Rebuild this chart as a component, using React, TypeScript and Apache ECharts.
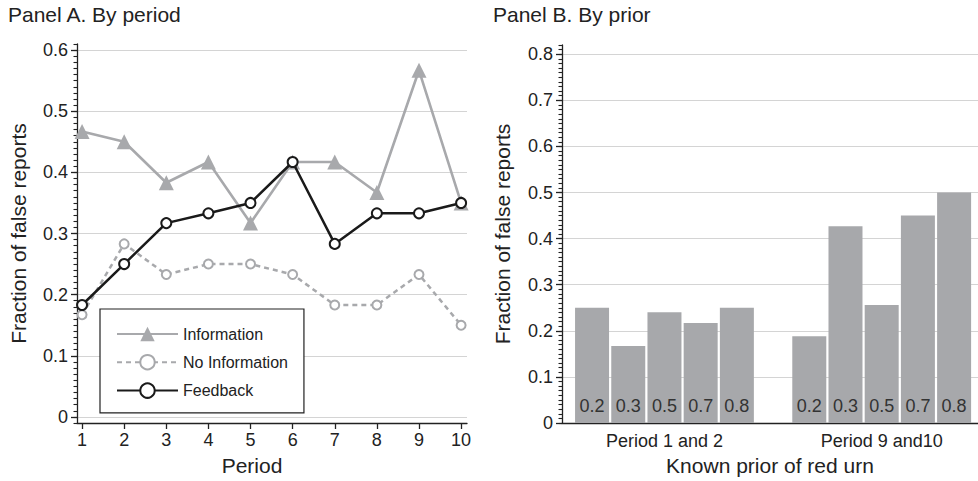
import React, { useEffect, useRef } from "react";
import * as echarts from "echarts";

// ---- Panel A data ----
const periods = [1, 2, 3, 4, 5, 6, 7, 8, 9, 10];
const information = [0.467, 0.45, 0.383, 0.417, 0.317, 0.417, 0.417, 0.367, 0.567, 0.35];
const noInformation = [0.167, 0.283, 0.233, 0.25, 0.25, 0.233, 0.183, 0.183, 0.233, 0.15];
const feedback = [0.183, 0.25, 0.317, 0.333, 0.35, 0.417, 0.283, 0.333, 0.333, 0.35];
const yTicksA = [0, 0.1, 0.2, 0.3, 0.4, 0.5, 0.6];

// ---- Panel B data ----
const periodGroups = ["Period 1 and 2", "Period 9 and10"];
const priors = ["0.2", "0.3", "0.5", "0.7", "0.8"];
const earlyPeriods = [0.25, 0.167, 0.24, 0.217, 0.25];
const latePeriods = [0.188, 0.427, 0.256, 0.45, 0.5];
const yTicksB = [0, 0.1, 0.2, 0.3, 0.4, 0.5, 0.6, 0.7, 0.8];

const FONT = "'Liberation Sans', Arial, Helvetica, sans-serif";
const TEXT = "#222";
const AXIS = "#222";
const GRID = "#d4d4d4";
const LIGHT = "#a8a9ac";
const DARK = "#1a1a1a";
const BAR = "#a7a8ab";

export default function App() {
  const ref = useRef<HTMLDivElement>(null);

  useEffect(() => {
    if (!ref.current) return;
    const chart = echarts.init(ref.current, undefined, { renderer: "svg" });

    const groupValues = [earlyPeriods, latePeriods];
    const barData: any[] = [];
    groupValues.forEach((vals, g) => {
      vals.forEach((v, i) => {
        barData.push({ value: [g * (priors.length + 1) + i, v], name: priors[i] });
      });
    });
    const groupCenters = periodGroups.map((_, g) => g * (priors.length + 1) + (priors.length - 1) / 2);

    const minorAxis = (gridIndex: number, min: number, max: number) => ({
      type: "value",
      gridIndex,
      min,
      max,
      interval: 0.01,
      position: "left",
      axisLine: { show: true, onZero: false, lineStyle: { color: AXIS, width: 1.3 } },
      axisTick: { show: true, length: 3.5, lineStyle: { color: AXIS, width: 1.1 } },
      axisLabel: { show: false },
      splitLine: { show: false },
    });

    const majorAxis = (gridIndex: number, min: number, max: number, ticks: number[], gap: number) => ({
      type: "value",
      gridIndex,
      min,
      max,
      position: "left",
      name: "Fraction of false reports",
      nameLocation: "middle",
      nameGap: gap,
      nameTextStyle: { fontSize: 21, color: TEXT, fontFamily: FONT },
      axisLine: { show: false, onZero: false },
      axisTick: { show: true, length: 6, customValues: ticks, lineStyle: { color: AXIS, width: 1.3 } },
      axisLabel: { show: true, customValues: ticks, margin: 9, fontSize: 18, color: TEXT, fontFamily: FONT },
      splitLine: { show: true, lineStyle: { color: GRID, width: 1.2 } },
    });

    chart.setOption({
      animation: false,
      backgroundColor: "#fff",
      textStyle: { fontFamily: FONT },
      title: [
        {
          text: "Panel A. By period",
          left: 8,
          top: 4,
          padding: 0,
          textStyle: { fontSize: 21, fontWeight: "normal", color: TEXT, fontFamily: FONT },
        },
        {
          text: "Panel B. By prior",
          left: 493,
          top: 4,
          padding: 0,
          textStyle: { fontSize: 21, fontWeight: "normal", color: TEXT, fontFamily: FONT },
        },
      ],
      grid: [
        { left: 77, top: 44, width: 390, height: 383, containLabel: false },
        { left: 562, top: 45, width: 416, height: 381, containLabel: false },
      ],
      legend: {
        show: true,
        orient: "vertical",
        left: 100,
        top: 309,
        padding: [17, 16, 14, 16],
        itemWidth: 61,
        itemHeight: 18,
        itemGap: 12,
        backgroundColor: "#fff",
        borderColor: "#222",
        borderWidth: 1.2,
        borderRadius: 0,
        textStyle: { fontSize: 16, color: TEXT, fontFamily: FONT },
        data: ["Information", "No Information", "Feedback"],
      },
      xAxis: [
        {
          type: "value",
          gridIndex: 0,
          min: 0.88,
          max: 10.14,
          name: "Period",
          nameLocation: "middle",
          nameGap: 32,
          nameTextStyle: { fontSize: 21, color: TEXT, fontFamily: FONT, padding: [0, 40, 0, 0] },
          axisLine: { show: true, onZero: false, lineStyle: { color: AXIS, width: 1.3 } },
          axisTick: { show: true, length: 6, customValues: periods, lineStyle: { color: AXIS, width: 1.3 } },
          axisLabel: { show: true, customValues: periods, margin: 8, fontSize: 18, color: TEXT, fontFamily: FONT },
          splitLine: { show: false },
        },
        {
          type: "value",
          gridIndex: 1,
          min: -0.83,
          max: 10.66,
          name: "Known prior of red urn",
          nameLocation: "middle",
          nameGap: 32,
          nameTextStyle: { fontSize: 21, color: TEXT, fontFamily: FONT },
          axisLine: { show: true, onZero: false, lineStyle: { color: AXIS, width: 1.3 } },
          axisTick: { show: false, customValues: groupCenters },
          axisLabel: {
            show: true,
            customValues: groupCenters,
            margin: 9,
            fontSize: 18,
            color: TEXT,
            fontFamily: FONT,
            formatter: (v: number) => {
              const idx = groupCenters.findIndex((c) => Math.abs(c - v) < 1e-6);
              return idx >= 0 ? periodGroups[idx] : "";
            },
          },
          splitLine: { show: false },
        },
      ],
      yAxis: [
        minorAxis(0, -0.01, 0.61),
        majorAxis(0, -0.01, 0.61, yTicksA, 48),
        minorAxis(1, 0, 0.82),
        majorAxis(1, 0, 0.82, yTicksB, 49),
      ],
      series: [
        {
          name: "Information",
          type: "line",
          xAxisIndex: 0,
          yAxisIndex: 1,
          data: periods.map((p, i) => [p, information[i]]),
          symbol: "triangle",
          symbolSize: 15,
          itemStyle: { color: LIGHT },
          lineStyle: { color: LIGHT, width: 2.6 },
          z: 2,
        },
        {
          name: "No Information",
          type: "line",
          xAxisIndex: 0,
          yAxisIndex: 1,
          data: periods.map((p, i) => [p, noInformation[i]]),
          symbol: "emptyCircle",
          symbolSize: 9,
          itemStyle: { color: LIGHT, borderColor: LIGHT, borderWidth: 2 },
          lineStyle: { color: LIGHT, width: 2.5, type: [5, 4] },
          z: 3,
        },
        {
          name: "Feedback",
          type: "line",
          xAxisIndex: 0,
          yAxisIndex: 1,
          data: periods.map((p, i) => [p, feedback[i]]),
          symbol: "emptyCircle",
          symbolSize: 10,
          itemStyle: { color: DARK, borderColor: DARK, borderWidth: 2.2 },
          lineStyle: { color: DARK, width: 2.5 },
          z: 4,
        },
        {
          name: "Bars",
          type: "bar",
          xAxisIndex: 1,
          yAxisIndex: 3,
          data: barData,
          barWidth: 34,
          itemStyle: { color: BAR },
          label: {
            show: true,
            position: "insideBottom",
            distance: 8,
            formatter: "{b}",
            fontSize: 18,
            color: "#333",
            fontFamily: FONT,
          },
        },
      ],
    });

    return () => chart.dispose();
  }, []);

  return (
    <div
      ref={ref}
      style={{ position: "absolute", left: 0, top: 0, width: 978, height: 481 }}
    />
  );
}
